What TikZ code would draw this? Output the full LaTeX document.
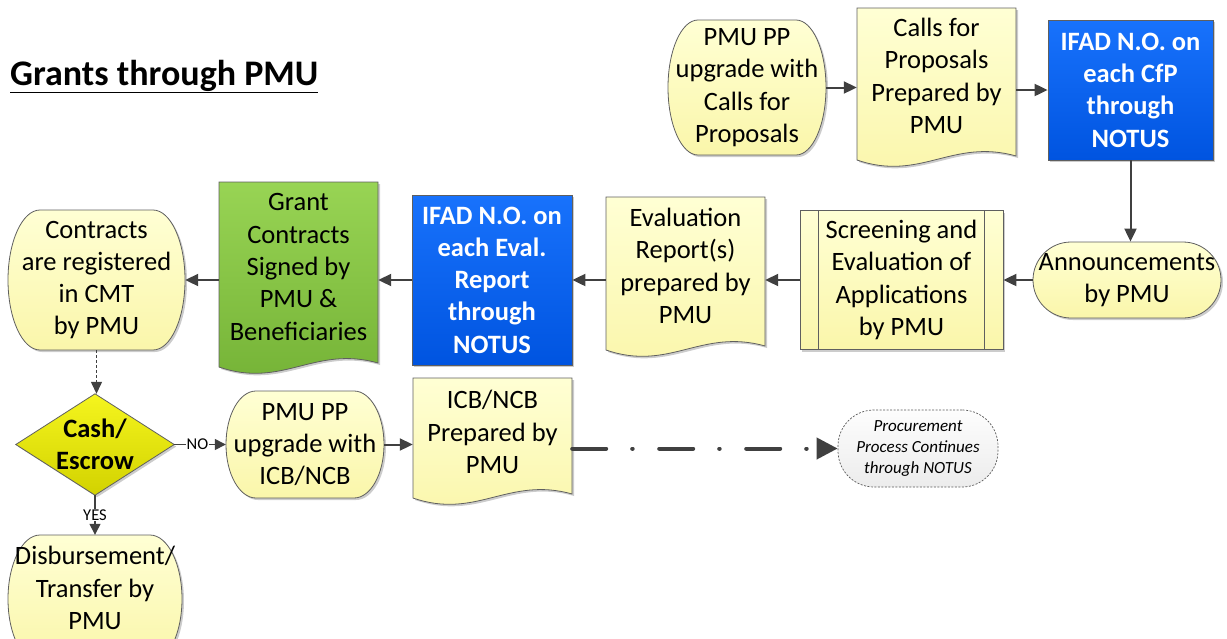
\documentclass[tikz,border=0pt]{standalone}
\usepackage{fontspec}
\setmainfont{Carlito}
\usetikzlibrary{arrows.meta,backgrounds,shadows,calc}
\definecolor{arrgray}{RGB}{64,64,64}
\definecolor{edgegray}{RGB}{95,95,95}
\definecolor{ytop}{RGB}{255,255,212}
\definecolor{ybot}{RGB}{250,246,170}
\definecolor{btop}{RGB}{24,114,252}
\definecolor{bbot}{RGB}{0,84,224}
\definecolor{gtop}{RGB}{152,212,84}
\definecolor{gbot}{RGB}{116,178,54}
\definecolor{dtop}{RGB}{245,245,30}
\definecolor{dbot}{RGB}{210,210,0}
\definecolor{ptop}{RGB}{253,253,253}
\definecolor{pbot}{RGB}{236,236,236}
\newcommand\docpath[5]{%
  \path[#2] ($(#1.center)+(-#3,-#4)$) -- ($(#1.center)+(#3,-#4)$) -- ($(#1.center)+(#3,#5-4)$)
    .. controls ($(#1.center)+(#3*0.2,#5-22)$) and ($(#1.center)+(-#3*0.2,#5+22)$) ..
    ($(#1.center)+(-#3,#5)$) -- cycle;}
% #1 node, #2 style, #3 half width, #4 top distance, #5 bottom distance, #6 corner x-radius
\newcommand\termpath[6]{%
  \pgfmathsetmacro\tmid{(#5-#4)/2}%
  \pgfmathsetmacro\try{(#5+#4)/2}%
  \path[#2] ($(#1.center)+(-#3+#6,-#4)$) -- ($(#1.center)+(#3-#6,-#4)$)
    .. controls ($(#1.center)+(#3-0.448*#6,-#4)$) and ($(#1.center)+(#3,\tmid-0.552*\try)$) .. ($(#1.center)+(#3,\tmid)$)
    .. controls ($(#1.center)+(#3,\tmid+0.552*\try)$) and ($(#1.center)+(#3-0.448*#6,#5)$) .. ($(#1.center)+(#3-#6,#5)$)
    -- ($(#1.center)+(-#3+#6,#5)$)
    .. controls ($(#1.center)+(-#3+0.448*#6,#5)$) and ($(#1.center)+(-#3,\tmid+0.552*\try)$) .. ($(#1.center)+(-#3,\tmid)$)
    .. controls ($(#1.center)+(-#3,\tmid-0.552*\try)$) and ($(#1.center)+(-#3+0.448*#6,-#4)$) .. ($(#1.center)+(-#3+#6,-#4)$) -- cycle;}
\tikzset{
  softshadow/.style={drop shadow={shadow xshift=2pt,shadow yshift=-2pt,fill=black,opacity=0.2}},
  txt/.style={align=center, font=\fontsize{26.5}{32.3}\selectfont, inner sep=0pt, text=black},
  yfill/.style={draw=edgegray, line width=0.8pt, top color=ytop, bottom color=ybot, softshadow},
  gfill/.style={draw=edgegray, line width=0.8pt, top color=gtop, bottom color=gbot, softshadow},
  dfill/.style={draw=edgegray, line width=0.8pt, top color=dtop, bottom color=dbot, softshadow},
  rbox/.style={txt, yfill},
  bluebox/.style={txt, draw=edgegray, line width=0.8pt, top color=btop, bottom color=bbot, softshadow,
    text=white, font=\fontsize{26.5}{32.3}\selectfont\bfseries},
  procbox/.style={align=center, inner sep=0pt, font=\fontsize{17}{20.7}\selectfont\itshape,
    draw=gray!70!black, line width=0.7pt, dash pattern=on 2pt off 1.5pt, top color=ptop, bottom color=pbot},
  arr/.style={draw=arrgray, line width=2pt, -{Triangle[length=13pt,width=12pt]}},
  thinarr/.style={draw=arrgray, line width=1.3pt, -{Triangle[length=11pt,width=11pt]}},
  dotarr/.style={draw=arrgray, line width=1.3pt, dash pattern=on 3pt off 2pt, -{Triangle[length=12pt,width=11pt]}},
  dasharr/.style={draw=arrgray, line width=4pt, line cap=round, dash pattern=on 34pt off 26pt on 0.5pt off 26.5pt, -{Triangle[length=21pt,width=21pt]}},
  lbl/.style={fill=white, inner sep=1pt, font=\fontsize{16.5}{18}\selectfont, text=black}
}
\begin{document}
\begin{tikzpicture}[x=1pt,y=-1pt]
\useasboundingbox (0,0) rectangle (1227,638);

\node[txt, anchor=base west, font=\fontsize{36}{40}\selectfont\bfseries] (title) at (10,85) {\underline{Grants through PMU}};

% top row
\node[txt, minimum width=158pt, minimum height=135pt] (n1) at (747,87.5) {PMU PP\\upgrade with\\Calls for\\Proposals};
\node[txt, minimum width=159pt] (n2) at (936.5,76) {Calls for\\Proposals\\Prepared by\\PMU};
\node[bluebox, minimum width=165pt, minimum height=140pt] (n3) at (1130.5,90) {IFAD N.O. on\\each CfP\\through\\NOTUS};

% middle row
\node[rbox, minimum width=188pt, minimum height=76pt, rounded corners=38pt] (n4) at (1127,280) {Announcements\\by PMU};
\node[rbox, minimum width=203pt, minimum height=139pt] (n5) at (901.5,280) {Screening and\\Evaluation of\\Applications\\by PMU};
\draw[edgegray, line width=0.8pt] ([xshift=19pt]n5.north west) -- ([xshift=19pt]n5.south west);
\draw[edgegray, line width=0.8pt] ([xshift=-19pt]n5.north east) -- ([xshift=-19pt]n5.south east);
\node[txt, minimum width=159pt] (n6) at (685.5,266) {Evaluation\\Report(s)\\prepared by\\PMU};
\node[bluebox, minimum width=160pt, minimum height=170pt] (n7) at (492,280) {IFAD N.O. on\\each Eval.\\Report\\through\\NOTUS};
\node[txt, minimum width=159pt] (n8) at (298.5,267) {Grant\\Contracts\\Signed by\\PMU \&\\Beneficiaries};
\node[txt, minimum width=177pt, minimum height=140pt] (n9) at (96.5,280) {Contracts\\are registered\\in CMT\\by PMU};

% bottom row
\node[txt, minimum width=158pt, minimum height=101pt, font=\fontsize{26.5}{32.3}\selectfont\bfseries] (n10) at (95,444.5) {Cash/\\Escrow};
\node[txt, minimum width=158pt, minimum height=107pt] (n11) at (305,444.5) {PMU PP\\upgrade with\\ICB/NCB};
\node[txt, minimum width=159pt] (n12) at (492.5,432) {ICB/NCB\\Prepared by\\PMU};
\node[procbox, minimum width=160pt, minimum height=77pt, rounded corners=36pt] (n13) at (918,448.5) {Procurement\\Process Continues\\through NOTUS};
\node[txt, minimum width=174pt, minimum height=106pt] (n14) at (95,588) {Disbursement/\\Transfer by\\PMU};

\begin{pgfonlayer}{background}
\termpath{n1}{yfill}{79}{67.5}{67.5}{30}
\termpath{n9}{yfill}{88.5}{70}{70}{32}
\termpath{n11}{yfill}{79}{53.5}{53.5}{30}
\termpath{n14}{yfill}{87}{53}{75}{32}
\docpath{n2}{yfill}{79.5}{68}{84}
\docpath{n6}{yfill}{79.5}{69}{84}
\docpath{n8}{gfill}{79.5}{85}{100}
\docpath{n12}{yfill}{79.5}{54}{66}
\path[dfill] (n10.north) -- (n10.east) -- (n10.south) -- (n10.west) -- cycle;
\end{pgfonlayer}

% connectors
\draw[arr] (n1.east) -- (n1.east -| n2.west);
\draw[arr] (n2.east |- n3.west) -- (n3.west);
\draw[arr] (n3.south) -- (n3.south |- n4.north);
\draw[arr] (n4.west) -- (n4.west -| n5.east);
\draw[arr] (n5.west) -- (n5.west -| n6.east);
\draw[arr] (n7.east -| n6.west) -- (n7.east);
\draw[arr] (n7.west) -- (n7.west -| n8.east);
\draw[arr] (n9.east -| n8.west) -- (n9.east);
\draw[dotarr] (n9.south) -- (n9.south |- n10.north);
\draw[thinarr] (n10.east) -- node[lbl, pos=0.45]{NO} (n11.west);
\draw[arr] (n11.east) -- (n11.east -| n12.west);
\draw[dasharr] (n13.west -| n12.east) -- (n13.west);
\draw[thinarr] (n10.south) -- node[lbl]{YES} (n14.north);
\end{tikzpicture}
\end{document}
